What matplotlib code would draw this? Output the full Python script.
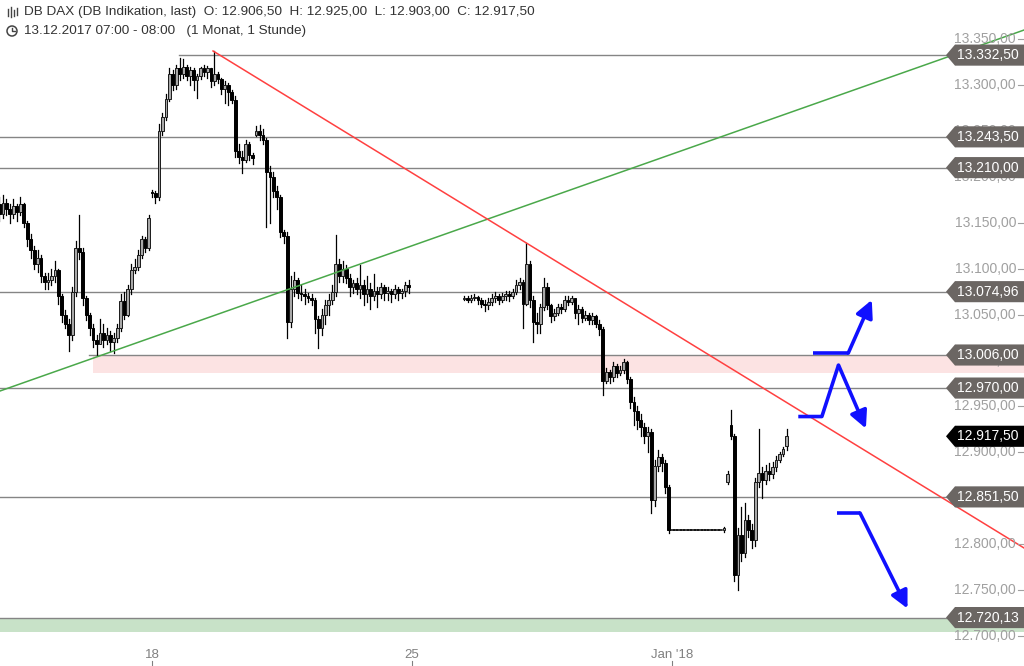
import matplotlib.pyplot as plt
from matplotlib.patches import Rectangle, Polygon, Circle

plt.rcParams['font.family'] = ['Liberation Sans', 'DejaVu Sans']

# hourly candles, 15 slots per trading day (07:00 - 21:00), None = no quotes
closes = [
    # Dec 13
    13170, 13160, 13172, 13165, 13160, 13168, 13162, 13170, 13150, 13132, 13120, 13105, 13112, 13092, 13085,
    # Dec 14
    13088, 13092, 13098, 13070, 13050, 13040, 13028, 13075, 13122, 13118, 13068, 13050, 13035, 13022, 13018,
    # Dec 15
    13030, 13022, 13028, 13020, 13024, 13035, 13065, 13050, 13078, 13098, 13102, 13115, 13132, 13122, 13155,
    # Dec 18
    13182, 13178, 13250, 13265, 13285, 13312, 13300, 13318, 13312, 13320, 13310, 13316, 13305, 13310, 13318,
    # Dec 19
    13314, 13318, 13304, 13312, 13306, 13296, 13300, 13292, 13284, 13228, 13222, 13218, 13236, 13224, 13220,
    # Dec 20
    13250, 13246, 13240, 13205, 13200, 13185, 13178, 13140, 13136, 13042, 13078, 13088, 13074, 13072, 13070,
    # Dec 21
    13068, 13066, 13045, 13035, 13050, 13060, 13066, 13075, 13105, 13092, 13100, 13090, 13080, 13084, 13078,
    # Dec 22
    13082, 13072, 13078, 13070, 13076, 13072, 13080, 13074, 13076, 13072, 13078, 13074, 13076, 13082, 13080,
    # Dec 25
    None, None, None, None, None, None, None, None, None, None, None, None, None, None, None,
    # Dec 26/27
    13068, 13066, 13068, 13069, 13066, 13062, 13060, 13064, 13068, 13070, 13066, 13070, 13072, 13070, 13075,
    # Dec 27/28
    13082, 13086, 13062, 13105, 13066, 13042, 13040, 13058, 13080, 13060, 13048, 13052, 13058, 13056, 13066,
    # Dec 28
    13064, 13068, 13052, 13056, 13046, 13050, 13044, 13048, 13040, 13034, 12978, 12988, 12982, 12994, 12986,
    # Dec 29
    12990, 12998, 12980, 12955, 12945, 12935, 12928, 12918, 12922, 12848, 12885, 12895, 12888, 12862, 12815,
    # Jan 1
    12815, 12815, 12815, 12815, 12815, 12815, 12815, 12815, 12815, 12815, 12815, 12815, 12815, 12815, 12815,
    # Jan 2
    12818, 12876, 12918, 12766, 12810, 12790, 12826, 12815, 12805, 12868, 12878, 12870, 12880, 12876, 12884,
    # Jan 3
    12892, 12898, 12904, 12917.5,
]
highs = [
    13185, 13178, 13180, 13176, 13170, 13176, 13170, 13178, 13172, 13152, 13138, 13125, 13120, 13115, 13095,
    13095, 13100, 13108, 13100, 13072, 13055, 13045, 13080, 13130, 13158, 13122, 13070, 13052, 13040, 13028,
    13045, 13040, 13035, 13032, 13030, 13040, 13072, 13075, 13082, 13105, 13110, 13120, 13136, 13135, 13158,
    13186, 13185, 13258, 13270, 13290, 13318, 13316, 13322, 13329, 13328, 13322, 13320, 13318, 13312, 13320,
    13322, 13321, 13318, 13337, 13314, 13308, 13304, 13302, 13295, 13288, 13236, 13228, 13240, 13238, 13226,
    13255, 13256, 13252, 13242, 13212, 13205, 13190, 13180, 13142, 13140, 13092, 13096, 13090, 13082, 13078,
    13074, 13072, 13068, 13048, 13056, 13066, 13072, 13082, 13137, 13110, 13108, 13104, 13094, 13088, 13090,
    13104, 13088, 13092, 13084, 13094, 13080, 13084, 13082, 13080, 13078, 13082, 13080, 13078, 13086, 13088,
    None, None, None, None, None, None, None, None, None, None, None, None, None, None, None,
    13070, 13070, 13071, 13072, 13070, 13068, 13066, 13068, 13072, 13075, 13072, 13074, 13076, 13076, 13078,
    13088, 13090, 13088, 13128, 13108, 13070, 13052, 13062, 13090, 13084, 13062, 13056, 13062, 13062, 13070,
    13070, 13070, 13066, 13060, 13058, 13054, 13052, 13052, 13050, 13044, 13036, 12992, 12990, 12998, 12996,
    12994, 13002, 13000, 12982, 12960, 12950, 12942, 12932, 12928, 12925, 12892, 12903, 12898, 12892, 12864,
    12815, 12815, 12815, 12815, 12815, 12815, 12815, 12815, 12815, 12815, 12815, 12815, 12815, 12815, 12815,
    12819, 12880, 12946, 12920, 12818, 12840, 12845, 12832, 12822, 12872, 12925, 12884, 12886, 12888, 12890,
    12896, 12900, 12906, 12925,
]
lows = [
    13160, 13152, 13155, 13158, 13150, 13155, 13152, 13158, 13145, 13125, 13112, 13100, 13096, 13086, 13078,
    13078, 13082, 13085, 13062, 13042, 13035, 13010, 13022, 13070, 13110, 13060, 13044, 13028, 13015, 13006,
    13022, 13015, 13018, 13010, 13008, 13020, 13032, 13045, 13048, 13072, 13095, 13098, 13112, 13118, 13120,
    13178, 13172, 13175, 13245, 13262, 13282, 13295, 13296, 13305, 13308, 13305, 13300, 13295, 13286, 13306,
    13310, 13308, 13298, 13300, 13302, 13290, 13280, 13278, 13280, 13222, 13215, 13204, 13216, 13218, 13214,
    13244, 13240, 13236, 13145, 13150, 13178, 13165, 13134, 13128, 13024, 13036, 13070, 13068, 13066, 13062,
    13064, 13060, 13030, 13014, 13028, 13040, 13050, 13062, 13070, 13085, 13086, 13084, 13070, 13074, 13072,
    13068, 13060, 13064, 13056, 13066, 13058, 13068, 13066, 13066, 13064, 13068, 13066, 13068, 13070, 13074,
    None, None, None, None, None, None, None, None, None, None, None, None, None, None, None,
    13066, 13064, 13064, 13066, 13062, 13058, 13054, 13056, 13060, 13064, 13062, 13064, 13066, 13065, 13068,
    13072, 13078, 13035, 13060, 13058, 13020, 13030, 13030, 13055, 13056, 13042, 13044, 13050, 13052, 13054,
    13060, 13062, 13046, 13040, 13042, 13044, 13040, 13040, 13036, 13028, 12962, 12975, 12976, 12978, 12982,
    12984, 12986, 12975, 12948, 12930, 12925, 12918, 12910, 12900, 12834, 12842, 12880, 12880, 12856, 12812,
    12815, 12815, 12815, 12815, 12815, 12815, 12815, 12815, 12815, 12815, 12815, 12815, 12815, 12815, 12815,
    12813, 12866, 12915, 12760, 12750, 12782, 12786, 12808, 12796, 12798, 12862, 12850, 12866, 12870, 12872,
    12880, 12890, 12896, 12903,
]
# opens that differ from the previous close (gaps)
gap_opens = {0: 13165, 45: 13184, 75: 13246, 135: 13067, 211: 12868, 212: 12930, 228: 12906.5}

day_ticks = [45, 120, 195]
day_labels = ['18', '25', "Jan '18"]

# horizontal support / resistance levels and the slot where they start
levels = [13332.50, 13243.50, 13210.00, 13074.96, 13006.00, 12970.00, 12851.50, 12720.13]
level_start = [54, 1, 1, 1, 28, 1, 1, 1]
last_price = 12917.50
price_ticks = [13350, 13300, 13250, 13200, 13150, 13100, 13050, 13000,
               12950, 12900, 12850, 12800, 12750, 12700]

# zones (top, bottom, start slot)
pink_zone = (13006, 12986, 28)
green_zone = (12720, 12704, 1)

# trend lines (slot, price)
green_trend = [(1.15, 12966.8), (296.5, 13359.8)]
red_trend = [(62.6, 13337.0), (296.5, 12795.9)]

# hand drawn scenario arrows (slot, price)
arrow_up = [(235.6, 13008), (245.8, 13008), (252.6, 13066)]
arrow_mid = [(231.4, 12939), (238.2, 12939), (243.0, 12995), (250.9, 12926)]
arrow_down = [(242.7, 12834), (249.2, 12834), (262.9, 12730)]


def de_fmt(v):
    s = f"{v:,.2f}"
    return s.replace(',', '#').replace('.', ',').replace('#', '.')


fig = plt.figure(figsize=(10.24, 6.66), dpi=100)
ax = fig.add_axes([0, 0, 1, 1])
ax.set_axis_off()
ax.set_xlim(1.154, 296.5)
ax.set_ylim(12667.4, 13392.5)
blend = ax.get_yaxis_transform()
xblend = ax.get_xaxis_transform()

# zones
top, bot, st = pink_zone
ax.fill_between([st, 300], bot, top, color='#fce3e3', lw=0, zorder=1)
top, bot, st = green_zone
ax.fill_between([st - 2, 300], bot, top, color='#c8e2c8', lw=0, zorder=1)

for lv, st in zip(levels, level_start):
    ax.plot([st - 1.2, 300], [lv, lv], color='#858585', lw=1, zorder=2)

# candles
prev = None
for i, c in enumerate(closes):
    if c is None:
        prev = None
        continue
    o = gap_opens.get(i, prev if prev is not None else c)
    prev = c
    h, l = highs[i], lows[i]
    if h == l:
        ax.plot([i - 0.5, i + 0.5], [c, c], color='black', lw=1.1, zorder=3)
        continue
    ax.plot([i, i], [l, h], color='black', lw=0.9, zorder=3)
    bottom = min(o, c)
    height = max(abs(c - o), 1.5)
    if c >= o:
        fc, ec = '#a8a8a8', '#1a1a1a'
    else:
        fc, ec = 'black', 'black'
    ax.add_patch(Rectangle((i - 0.4, bottom), 0.8, height, facecolor=fc,
                           edgecolor=ec, lw=0.7, zorder=4))

# trend lines
ax.plot([p[0] for p in green_trend], [p[1] for p in green_trend], color='#4aa84a', lw=1.1, zorder=5)
ax.plot([p[0] for p in red_trend], [p[1] for p in red_trend], color='#ff4040', lw=1.1, zorder=5)

# blue arrows
blue = '#1010ff'
for path in [arrow_up, arrow_mid, arrow_down]:
    xs = [p[0] for p in path]
    ys = [p[1] for p in path]
    ax.plot(xs[:-1], ys[:-1], color=blue, lw=2.6, solid_capstyle='butt', zorder=6)
    ax.annotate('', xy=path[-1], xytext=path[-2],
                arrowprops=dict(arrowstyle='-|>', color=blue, lw=2.6,
                                mutation_scale=26, shrinkA=0, shrinkB=0), zorder=6)

# price scale
for v in price_ticks:
    ax.text(1016 / 1024, v, de_fmt(v), transform=blend, ha='right', va='center',
            color='#a0a0a0', fontsize=10, zorder=7)
    ax.plot([1018 / 1024, 1023 / 1024], [v, v], transform=blend, color='#a0a0a0', lw=0.8, zorder=7)

# level boxes
hh = 11.5
for lv in levels + [last_price]:
    col = 'black' if lv == last_price else '#6b6663'
    pts = [(946 / 1024, lv), (955 / 1024, lv + hh), (1.0, lv + hh), (1.0, lv - hh), (955 / 1024, lv - hh)]
    ax.add_patch(Polygon(pts, closed=True, transform=blend, facecolor=col, edgecolor='none', zorder=8))
    ax.text(988 / 1024, lv, de_fmt(lv), transform=blend, ha='center', va='center',
            color='white', fontsize=10, zorder=9)

# x axis
for t, lab in zip(day_ticks, day_labels):
    ax.text(t, 0.0165, lab, transform=xblend, ha='center', va='center', color='#808080',
            fontsize=9.5, family=['Liberation Sans Narrow', 'Liberation Sans'])
    ax.plot([t, t], [0, 0.008], transform=xblend, color='#808080', lw=0.8)

# header
fig.text(24 / 1024, 1 - 12 / 666,
         'DB DAX (DB Indikation, last)  O: 12.906,50  H: 12.925,00  L: 12.903,00  C: 12.917,50',
         ha='left', va='center', fontsize=9.7, color='#333333')
fig.text(24 / 1024, 1 - 31 / 666, '13.12.2017 07:00 - 08:00   (1 Monat, 1 Stunde)',
         ha='left', va='center', fontsize=9.7, color='#333333')

# header icons
ov = fig.add_axes([0, 0, 1, 1])
ov.set_xlim(0, 1024)
ov.set_ylim(666, 0)
ov.set_axis_off()
for x0, y0, y1 in [(8, 9, 16), (11, 7, 17), (14, 10, 16), (17, 8, 15)]:
    ov.plot([x0, x0], [y0, y1], color='#444444', lw=1)
ov.add_patch(Circle((12, 31), 5, fill=False, edgecolor='#444444', lw=1.1))
ov.plot([12, 12, 15], [28, 31, 31], color='#444444', lw=1)

fig.savefig('out.png', dpi=100)
